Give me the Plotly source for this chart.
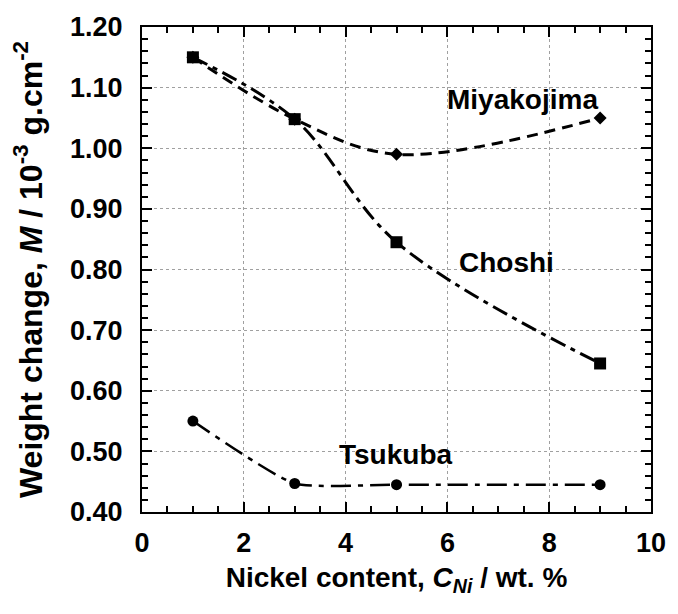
import plotly.graph_objects as go

# Nickel content of the steel samples (wt. %)
nickel = [1, 3, 5, 9]

# Weight change at each exposure site (10^-3 g/cm^2)
miyakojima = [1.15, 1.048, 0.99, 1.05]
choshi = [1.15, 1.048, 0.845, 0.645]
tsukuba = [0.55, 0.447, 0.445, 0.445]

site_names = ["Miyakojima", "Choshi", "Tsukuba"]
label_x = [7.48, 7.16, 4.99]
label_y = [1.08, 0.812, 0.495]

x_ticks = [0, 2, 4, 6, 8, 10]
y_ticks = [0.40, 0.50, 0.60, 0.70, 0.80, 0.90, 1.00, 1.10, 1.20]

FONT = "Liberation Sans, Arial, sans-serif"

fig = go.Figure()

fig.add_trace(go.Scatter(
    x=nickel, y=miyakojima, mode="lines+markers",
    line=dict(color="black", width=3, dash="11px,7px", shape="spline", smoothing=1.0),
    marker=dict(symbol="diamond", size=10, color="black"),
    showlegend=False,
))
fig.add_trace(go.Scatter(
    x=nickel, y=choshi, mode="lines+markers",
    line=dict(color="black", width=3, dash="16px,6px,5px,6px", shape="spline", smoothing=1.0),
    marker=dict(symbol="square", size=12, color="black"),
    showlegend=False,
))
fig.add_trace(go.Scatter(
    x=nickel, y=tsukuba, mode="lines+markers",
    line=dict(color="black", width=2.5, dash="20px,7px,5px,7px", shape="spline", smoothing=0.5),
    marker=dict(symbol="circle", size=11, color="black"),
    showlegend=False,
))

for name, lx, ly in zip(site_names, label_x, label_y):
    fig.add_annotation(
        x=lx, y=ly, text=name, showarrow=False,
        xanchor="center", yanchor="middle",
        font=dict(family=FONT, size=28, color="black", weight="bold"),
    )

axis_common = dict(
    showline=True, linecolor="black", linewidth=2, mirror="ticks",
    ticks="inside", ticklen=10, tickwidth=2, tickcolor="black",
    showgrid=True, gridcolor="#a0a0a0", gridwidth=1, griddash="dot",
    zeroline=False,
    tickfont=dict(family=FONT, size=27, color="black", weight="bold"),
)

fig.update_xaxes(
    range=[0, 10], tickvals=x_ticks, ticktext=[str(v) for v in x_ticks],
    minor=dict(dtick=0.5, ticks="inside", ticklen=6, tickwidth=2, tickcolor="black", showgrid=False),
    ticklabelstandoff=6,
    title=dict(
        text="Nickel content, <i>C</i><sub><i>Ni</i></sub> / wt. %",
        font=dict(family=FONT, size=28, color="black", weight="bold"),
        standoff=10,
    ),
    **axis_common,
)
fig.update_yaxes(
    range=[0.40, 1.20], tickvals=y_ticks, ticktext=[f"{v:.2f}" for v in y_ticks],
    minor=dict(dtick=0.02, ticks="inside", ticklen=6, tickwidth=2, tickcolor="black", showgrid=False),
    ticklabelstandoff=12,
    title=dict(
        text="Weight change, <i>M</i> / 10<sup>-3</sup> g.cm<sup>-2</sup>",
        font=dict(family=FONT, size=32, color="black", weight="bold"),
        standoff=18,
    ),
    **axis_common,
)

fig.update_layout(
    width=678, height=614,
    margin=dict(l=142, r=17, t=24, b=102),
    paper_bgcolor="white", plot_bgcolor="white",
)

fig.write_html("out.html")
